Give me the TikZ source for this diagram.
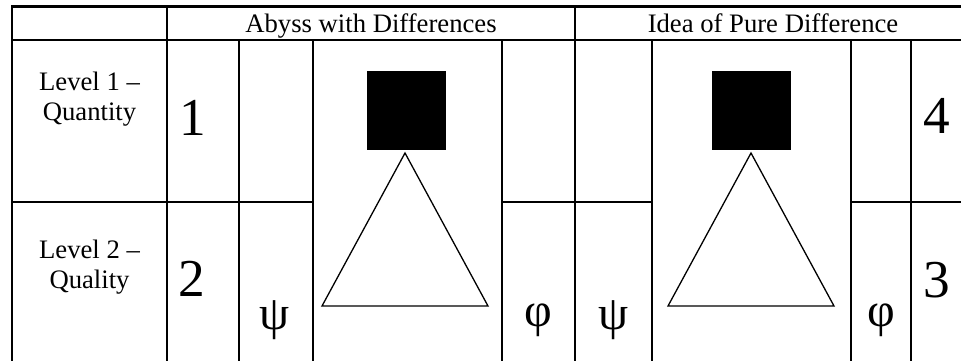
\documentclass[tikz,border=0pt]{standalone}
\usepackage{fontspec}
\setmainfont{Liberation Serif}
\begin{document}
\begin{tikzpicture}[x=1pt,y=-1pt,
  grid/.style={line width=2.8pt,line cap=rect},
  tri/.style={line width=1.3pt,line join=miter},
  sq/.style={fill=black,draw=none},
  head/.style={font=\fontsize{26.67}{30}\selectfont,anchor=base,inner sep=0pt},
  lab/.style={font=\fontsize{26.67}{30}\selectfont,anchor=base,inner sep=0pt},
  big/.style={font=\fontsize{53.3}{60}\selectfont,anchor=base,inner sep=0pt},
  greek/.style={font=\fontsize{48}{54}\selectfont,anchor=center,inner sep=0pt}]
\useasboundingbox (0,0) rectangle (961,360);
% grid lines
\draw[grid] (12,6.5) -- (968,6.5);
\draw[grid] (12,40) -- (968,40);
\draw[grid] (12,6.5) -- (12,368);
\draw[grid] (167,6.5) -- (167,368);
\draw[grid] (575,6.5) -- (575,368);
\foreach \xx in {239,313,502,652,851,911} \draw[grid] (\xx,40) -- (\xx,368);
\draw[grid] (12,202) -- (313,202);
\draw[grid] (502,202) -- (652,202);
\draw[grid] (851,202) -- (968,202);
% headers
\node[head] (h1) at (371,32.5) {Abyss with Differences};
\node[head] (h2) at (773,32.5) {Idea of Pure Difference};
% level labels
\node[lab] (l1a) at (89.5,90) {Level 1 –};
\node[lab] (l1b) at (89.5,120) {Quantity};
\node[lab] (l2a) at (89.5,258) {Level 2 –};
\node[lab] (l2b) at (89.5,288) {Quality};
% numbers
\node[big] (n1) at (193,135) {1};
\node[big] (n2) at (192,296) {2};
\node[big] (n4) at (937,133) {4};
\node[big] (n3) at (937,297) {3};
% greek
\node[greek] (psi1) at (275,320) {ψ};
\node[greek] (phi1) at (538,320) {φ};
\node[greek] (psi2) at (614,320) {ψ};
\node[greek] (phi2) at (881,320) {φ};
% squares and triangles
\fill[sq] (367,71) rectangle (446,150);
\fill[sq] (712,71) rectangle (791,150);
\draw[tri] (405,153) -- (488,306) -- (322,306) -- cycle;
\draw[tri] (751,153) -- (834,306) -- (668,306) -- cycle;
\end{tikzpicture}
\end{document}
